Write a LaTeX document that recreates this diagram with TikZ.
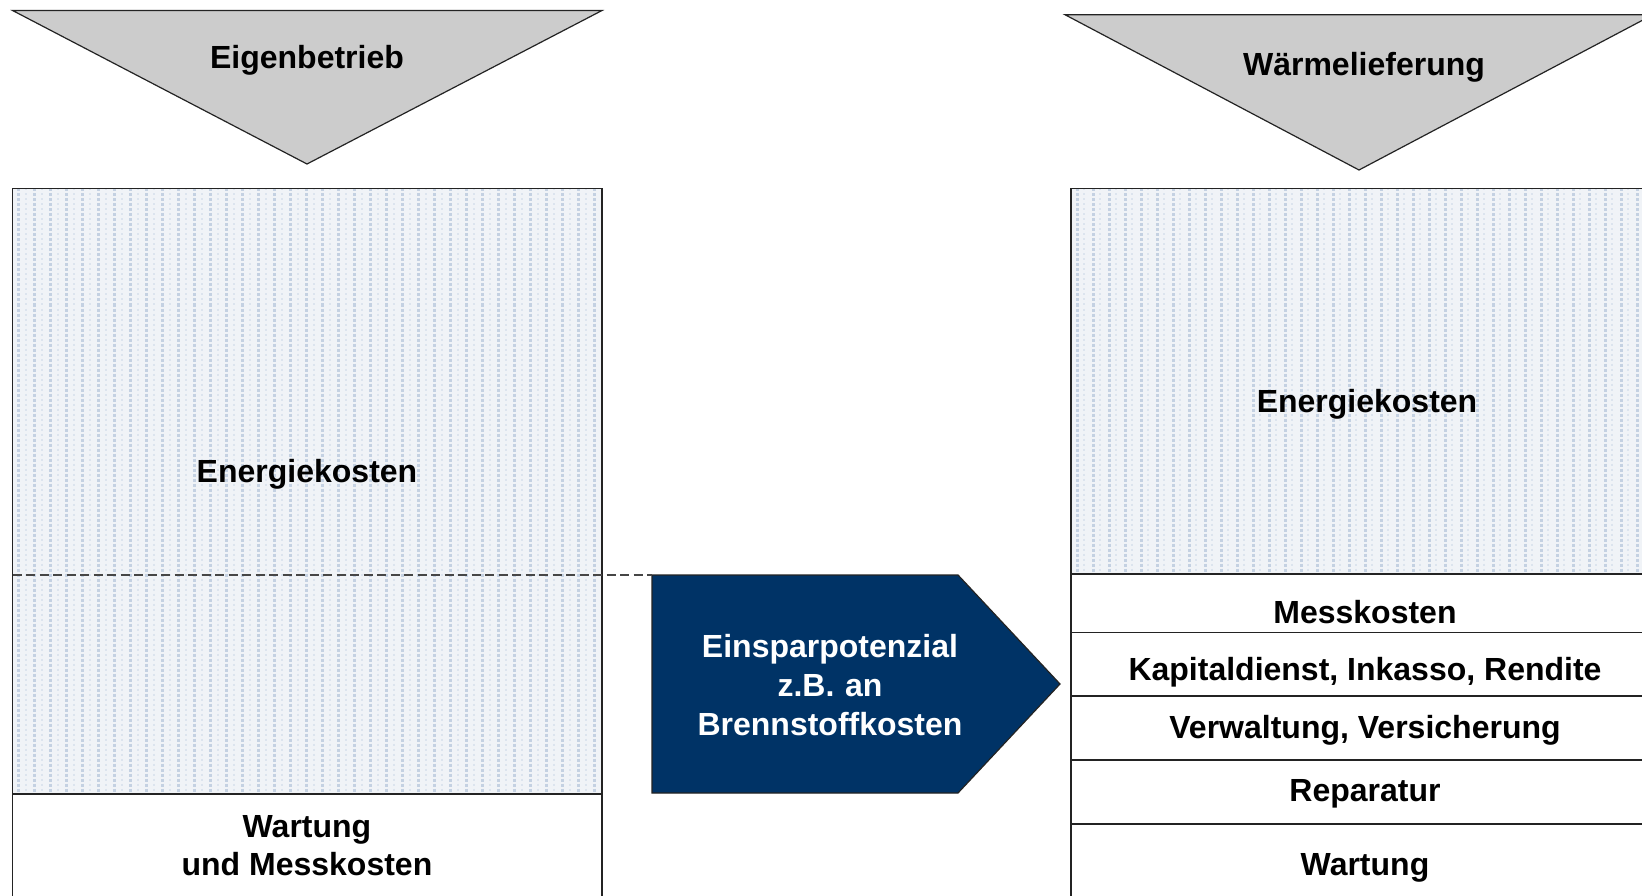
\documentclass[tikz,border=0pt]{standalone}
\usepackage{fontspec}
\setmainfont{Liberation Sans}
\definecolor{trifill}{RGB}{204,204,204}
\definecolor{navy}{RGB}{0,51,102}
\definecolor{patbg}{RGB}{240,243,247}
\definecolor{patfg}{RGB}{196,209,226}
\definecolor{patlt}{RGB}{220,228,238}
\definecolor{edgec}{RGB}{35,35,35}
\definecolor{dashc}{RGB}{70,70,70}
\newcommand\patrect[4]{%
  \begin{scope}
    \clip (#1,#2) rectangle (#3,#4);
    \fill[patbg] (#1,#2) rectangle (#3,#4);
    \foreach \xx in {0,16,...,608} {
      \draw[patfg,line width=3pt,dash pattern=on 3pt off 2pt] ({#1+\xx+6},#2) -- ({#1+\xx+6},#4);
      \draw[patlt,line width=2pt,dash pattern=on 2pt off 3pt] ({#1+\xx+13},#2) -- ({#1+\xx+13},#4);
    }
  \end{scope}}
\tikzset{
  lbl/.style={font=\fontsize{32}{38}\selectfont\bfseries, align=center, inner sep=0pt},
  wlbl/.style={lbl, text=white},
  edge/.style={draw=edgec, line width=1.2pt},
  tri/.style={edge, fill=trifill, line join=miter},
}
\begin{document}
\begin{tikzpicture}[x=1pt,y=-1pt]
\useasboundingbox (0,0) rectangle (1642,896);
\fill[white] (0,0) rectangle (1642,896);

% top triangles
\draw[tri] (12.6,10.5) -- (602,10.5) -- (307,164) -- cycle;
\node[lbl] (eig) at (307,60.5) {Eigenbetrieb};
\draw[tri] (1065,14.7) -- (1653,14.7) -- (1359,170) -- cycle;
\node[lbl] (waerm) at (1364,67.5) {Wärmelieferung};

% left column
\patrect{12.6}{188.5}{602}{794}
\draw[edge] (12.6,188.5) rectangle (602,910);
\draw[edge] (12.6,794) -- (602,794);
\coordinate (dashL) at (12.6,575);
\node[lbl] (energL) at (307,474.5) {Energiekosten};
\node[lbl] (wartL) at (307,846) {Wartung\\und Messkosten};

% arrow
\coordinate (arrNW) at (652,575);
\draw[edgec, fill=navy, line width=1.2pt] (arrNW) -- (958,575) -- (1060,684) -- (958,793) -- (652,793) -- cycle;
\node[wlbl, text width=300pt] (spar) at (830,685) {Einsparpotenzial\\[1pt]z.B. an\\[1pt]Brennstoffkosten};
\draw[dashc, line width=1.2pt, dash pattern=on 9pt off 4.5pt] (dashL) -- (arrNW);

% right column
\patrect{1071}{188.5}{1661}{574}
\draw[edge] (1071,188.5) rectangle (1661,910);
\foreach \yy in {574,632.5,696,760,824} \draw[edge] (1071,\yy) -- (1661,\yy);
\node[lbl] (energR) at (1367,404.5) {Energiekosten};
\node[lbl] (mess) at (1365,612) {Messkosten};
\node[lbl] (kap) at (1365,672.5) {Kapitaldienst, Inkasso, Rendite};
\node[lbl] (verw) at (1365,730) {Verwaltung, Versicherung};
\node[lbl] (rep) at (1365,794) {Reparatur};
\node[lbl] (wartR) at (1365,868) {Wartung};
\end{tikzpicture}
\end{document}
